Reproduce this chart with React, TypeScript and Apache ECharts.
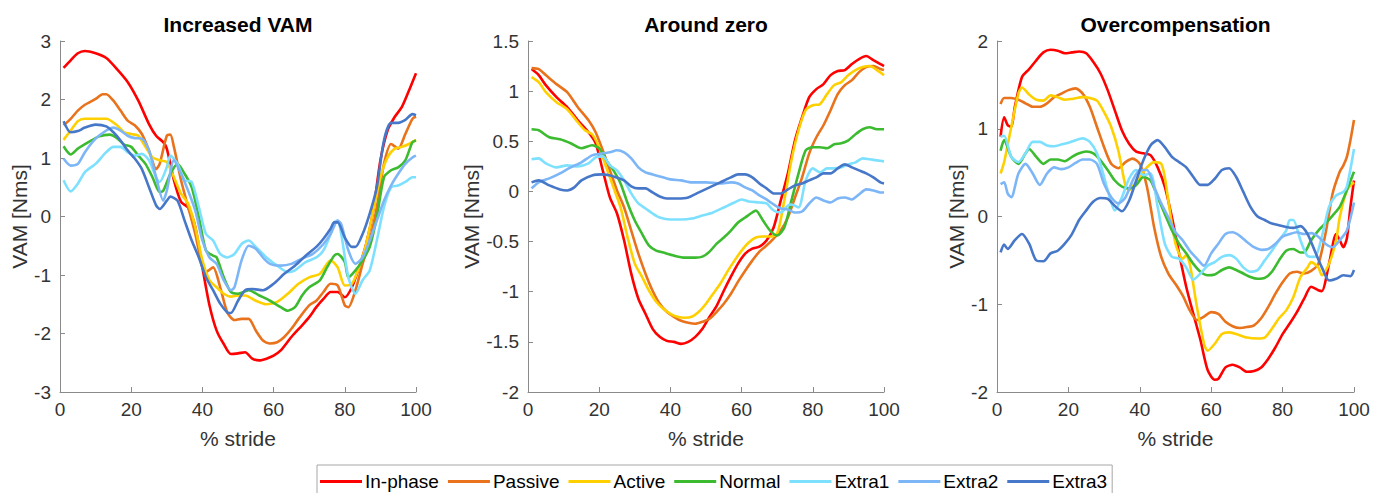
import React, { useEffect, useRef } from "react";
import * as echarts from "echarts";

const seriesNames = ["In-phase", "Passive", "Active", "Normal", "Extra1", "Extra2", "Extra3"];
const seriesColors = ["#FF0000", "#E8731C", "#FFD000", "#3DBB30", "#7EE0FF", "#7CB6F7", "#4677C8"];
const panelTitles = ["Increased VAM", "Around zero", "Overcompensation"];
const xTicks = { min: 0, max: 100, interval: 20 };
const yRanges = [
  { min: -3, max: 3, interval: 1 },
  { min: -2, max: 1.5, interval: 0.5 },
  { min: -2, max: 2, interval: 1 },
];

// ---- Panel 1: Increased VAM ----
const p1InPhase = [[1,2.54],[3,2.67],[5,2.79],[7,2.83],[10,2.79],[13,2.71],[16,2.52],[19,2.30],[22,1.98],[25,1.58],[27,1.38],[29,1.27],[30,1.16],[32,0.62],[34,0.25],[36,0.15],[38,-0.18],[40,-0.87],[42,-1.52],[44,-1.95],[46,-2.18],[48,-2.35],[50,-2.34],[52,-2.32],[54,-2.43],[56,-2.46],[58,-2.43],[60,-2.38],[62,-2.29],[65,-2.06],[68,-1.86],[70,-1.72],[72,-1.55],[74,-1.41],[76,-1.29],[78,-1.29],[80,-1.38],[82,-1.21],[84,-0.87],[86,-0.47],[88,0.10],[90,0.96],[92,1.47],[94,1.70],[96,1.87],[98,2.15],[100,2.45]];
const p1Passive = [[1,1.56],[3,1.67],[5,1.81],[7,1.91],[10,2.01],[12,2.09],[13,2.09],[15,1.98],[17,1.81],[19,1.64],[21,1.56],[23,1.41],[25,1.13],[27,0.81],[28,0.90],[30,1.38],[31,1.40],[32,1.19],[34,0.62],[36,0.16],[38,-0.30],[40,-0.87],[41,-0.95],[43,-0.87],[45,-1.21],[47,-1.64],[49,-1.77],[51,-1.75],[53,-1.75],[55,-1.95],[57,-2.12],[59,-2.17],[61,-2.15],[63,-2.06],[65,-1.92],[67,-1.75],[70,-1.52],[72,-1.44],[74,-1.29],[76,-1.15],[78,-1.18],[80,-1.52],[81,-1.55],[83,-1.26],[85,-0.81],[87,-0.41],[89,0.16],[91,0.90],[93,1.24],[95,1.16],[97,1.41],[99,1.67],[100,1.71]];
const p1Active = [[1,1.31],[3,1.47],[5,1.63],[7,1.67],[10,1.67],[13,1.67],[16,1.56],[18,1.44],[20,1.41],[22,1.38],[24,1.19],[26,1.01],[28,0.96],[30,0.93],[32,0.67],[34,0.39],[36,0.22],[38,-0.18],[40,-0.75],[42,-1.09],[44,-1.21],[46,-1.32],[48,-1.37],[50,-1.35],[52,-1.35],[55,-1.44],[58,-1.50],[61,-1.46],[64,-1.32],[67,-1.15],[70,-1.04],[73,-0.98],[75,-0.81],[76,-0.75],[78,-0.87],[80,-1.18],[82,-1.15],[84,-0.87],[86,-0.47],[88,0.10],[90,0.67],[92,1.01],[94,1.16],[96,1.19],[98,1.24],[100,1.31]];
const p1Normal = [[1,1.20],[3,1.06],[5,1.16],[8,1.27],[11,1.37],[14,1.40],[16,1.34],[18,1.23],[20,1.19],[22,1.04],[24,0.90],[26,0.67],[28,0.42],[29,0.44],[31,0.73],[33,0.90],[35,0.73],[37,0.50],[39,-0.01],[41,-0.58],[43,-0.67],[44,-0.70],[46,-1.04],[48,-1.29],[50,-1.32],[53,-1.26],[56,-1.35],[59,-1.44],[62,-1.55],[64,-1.61],[66,-1.55],[68,-1.35],[70,-1.21],[73,-1.09],[75,-0.87],[77,-0.67],[78,-0.64],[80,-0.78],[81,-1.04],[83,-0.92],[85,-0.75],[87,-0.52],[89,-0.01],[91,0.67],[93,0.79],[95,0.84],[97,0.96],[99,1.27],[100,1.30]];
const p1Extra1 = [[1,0.62],[3,0.43],[5,0.56],[7,0.76],[10,0.90],[13,1.10],[15,1.19],[17,1.19],[19,1.10],[21,1.04],[23,1.07],[25,0.96],[27,0.67],[28,0.59],[30,0.84],[31,1.04],[33,0.90],[35,0.62],[37,0.59],[39,0.16],[41,-0.30],[43,-0.41],[45,-0.64],[47,-0.70],[49,-0.64],[51,-0.47],[53,-0.41],[55,-0.52],[58,-0.70],[61,-0.84],[64,-0.95],[66,-0.92],[69,-0.78],[72,-0.70],[74,-0.58],[76,-0.30],[77,-0.10],[78,-0.07],[79,-0.30],[81,-1.04],[83,-1.32],[85,-1.09],[87,-0.92],[89,-0.41],[91,0.16],[93,0.50],[95,0.53],[97,0.59],[99,0.67],[100,0.67]];
const p1Extra2 = [[1,0.99],[3,0.87],[5,0.90],[7,1.10],[10,1.33],[13,1.47],[15,1.52],[17,1.47],[19,1.38],[21,1.34],[23,1.33],[25,1.13],[27,0.67],[29,0.27],[30,0.44],[32,0.96],[34,0.73],[36,0.44],[38,0.10],[40,-0.41],[42,-0.70],[44,-0.81],[46,-1.09],[48,-1.26],[49,-1.21],[51,-0.75],[53,-0.50],[55,-0.55],[57,-0.70],[59,-0.81],[62,-0.84],[65,-0.81],[68,-0.72],[71,-0.64],[74,-0.47],[76,-0.30],[78,-0.07],[79,-0.13],[81,-0.58],[83,-0.81],[85,-0.70],[87,-0.41],[89,-0.07],[91,0.27],[93,0.53],[95,0.73],[97,0.90],[99,1.01],[100,1.04]];
const p1Extra3 = [[1,1.63],[3,1.44],[5,1.46],[7,1.52],[10,1.57],[13,1.54],[15,1.44],[17,1.30],[19,1.13],[21,0.99],[23,0.81],[25,0.50],[27,0.19],[28,0.13],[30,0.27],[31,0.34],[33,0.27],[35,-0.07],[37,-0.41],[39,-0.70],[41,-1.04],[43,-1.26],[45,-1.49],[47,-1.64],[48,-1.65],[50,-1.44],[52,-1.26],[54,-1.24],[57,-1.26],[60,-1.15],[63,-0.98],[66,-0.84],[69,-0.67],[72,-0.52],[74,-0.38],[76,-0.21],[77,-0.10],[78,-0.10],[80,-0.36],[82,-0.52],[83,-0.52],[85,-0.30],[87,0.05],[89,0.50],[91,1.30],[93,1.60],[95,1.60],[97,1.65],[99,1.75],[100,1.73]];

// ---- Panel 2: Around zero ----
const p2InPhase = [[1,1.22],[3,1.16],[5,1.06],[8,0.94],[11,0.84],[14,0.71],[17,0.59],[19,0.48],[21,0.21],[23,-0.06],[25,-0.22],[27,-0.49],[29,-0.82],[31,-1.07],[33,-1.22],[35,-1.37],[37,-1.45],[39,-1.49],[41,-1.50],[43,-1.52],[45,-1.50],[47,-1.45],[49,-1.37],[51,-1.25],[53,-1.14],[55,-0.99],[57,-0.85],[59,-0.72],[61,-0.62],[63,-0.57],[65,-0.55],[67,-0.49],[69,-0.36],[71,-0.09],[73,0.18],[75,0.51],[77,0.74],[79,0.94],[81,1.02],[83,1.07],[85,1.16],[87,1.20],[89,1.21],[91,1.27],[93,1.32],[95,1.35],[97,1.31],[99,1.27],[100,1.25]];
const p2Passive = [[1,1.23],[3,1.22],[5,1.16],[8,1.07],[11,0.99],[14,0.84],[17,0.71],[19,0.59],[21,0.41],[23,0.21],[25,0.01],[27,-0.16],[29,-0.39],[31,-0.62],[33,-0.82],[35,-0.99],[37,-1.12],[39,-1.20],[41,-1.25],[43,-1.29],[45,-1.31],[47,-1.32],[49,-1.30],[51,-1.27],[53,-1.20],[55,-1.12],[57,-1.02],[59,-0.90],[61,-0.79],[63,-0.69],[65,-0.60],[67,-0.54],[69,-0.47],[71,-0.39],[73,-0.26],[75,-0.06],[77,0.14],[79,0.38],[81,0.54],[83,0.66],[85,0.81],[87,0.97],[89,1.06],[91,1.11],[93,1.19],[95,1.24],[97,1.25],[99,1.22],[100,1.21]];
const p2Active = [[1,1.14],[3,1.09],[5,0.99],[8,0.89],[11,0.82],[14,0.69],[16,0.61],[18,0.57],[20,0.44],[22,0.24],[24,0.04],[26,-0.16],[28,-0.46],[30,-0.72],[32,-0.85],[34,-0.99],[36,-1.10],[38,-1.17],[40,-1.22],[42,-1.25],[44,-1.26],[46,-1.25],[48,-1.20],[50,-1.12],[52,-1.02],[54,-0.92],[56,-0.80],[58,-0.69],[60,-0.59],[62,-0.51],[64,-0.46],[66,-0.45],[68,-0.45],[70,-0.42],[72,-0.09],[74,0.31],[76,0.61],[78,0.81],[80,0.86],[82,0.87],[84,0.97],[86,1.06],[88,1.09],[90,1.16],[92,1.21],[94,1.24],[96,1.25],[98,1.21],[100,1.16]];
const p2Normal = [[1,0.62],[3,0.61],[6,0.54],[9,0.52],[12,0.48],[15,0.43],[18,0.46],[20,0.43],[22,0.31],[24,0.21],[26,0.08],[28,-0.12],[30,-0.29],[32,-0.42],[34,-0.54],[36,-0.59],[38,-0.61],[41,-0.64],[44,-0.66],[47,-0.66],[49,-0.65],[51,-0.60],[53,-0.52],[55,-0.46],[57,-0.39],[59,-0.31],[61,-0.26],[63,-0.21],[64,-0.19],[66,-0.29],[68,-0.39],[70,-0.44],[72,-0.36],[74,-0.09],[76,0.18],[78,0.41],[80,0.44],[82,0.44],[84,0.43],[86,0.47],[88,0.48],[90,0.51],[92,0.57],[94,0.62],[96,0.64],[98,0.62],[100,0.62]];
const p2Extra1 = [[1,0.32],[3,0.33],[5,0.28],[8,0.24],[11,0.26],[14,0.25],[17,0.28],[19,0.34],[21,0.35],[23,0.26],[25,0.21],[27,0.11],[29,-0.02],[31,-0.12],[33,-0.17],[35,-0.22],[37,-0.26],[40,-0.28],[43,-0.28],[46,-0.27],[49,-0.24],[52,-0.21],[55,-0.16],[58,-0.11],[60,-0.08],[62,-0.10],[65,-0.11],[67,-0.12],[69,-0.19],[71,-0.21],[73,-0.14],[74,-0.13],[76,-0.16],[78,0.11],[80,0.23],[82,0.19],[84,0.23],[86,0.23],[88,0.24],[90,0.27],[92,0.29],[94,0.33],[96,0.32],[98,0.31],[100,0.30]];
const p2Extra2 = [[1,0.03],[3,0.09],[6,0.13],[9,0.18],[12,0.24],[15,0.29],[18,0.36],[21,0.38],[23,0.39],[25,0.41],[27,0.39],[29,0.33],[31,0.24],[33,0.19],[35,0.17],[37,0.15],[40,0.12],[43,0.11],[46,0.09],[50,0.09],[54,0.08],[57,0.09],[59,0.08],[61,0.04],[63,0.01],[65,-0.04],[67,-0.08],[69,-0.13],[71,-0.17],[73,-0.18],[75,-0.21],[77,-0.20],[79,-0.12],[81,-0.06],[83,-0.09],[85,-0.11],[87,-0.07],[89,-0.06],[91,-0.08],[93,-0.03],[95,0.02],[97,0.01],[99,-0.01],[100,-0.01]];
const p2Extra3 = [[1,0.09],[3,0.11],[6,0.06],[9,0.02],[11,0.01],[13,0.04],[15,0.11],[18,0.16],[21,0.17],[24,0.15],[27,0.11],[29,0.05],[31,0.03],[33,0.03],[35,-0.01],[37,-0.05],[39,-0.07],[42,-0.07],[45,-0.06],[48,-0.01],[51,0.04],[54,0.09],[57,0.14],[59,0.17],[61,0.17],[63,0.14],[65,0.08],[67,0.03],[69,-0.02],[71,-0.02],[73,0.02],[75,0.06],[77,0.08],[79,0.11],[81,0.14],[83,0.18],[85,0.18],[87,0.23],[89,0.27],[91,0.24],[93,0.21],[95,0.18],[97,0.14],[99,0.09],[100,0.08]];

// ---- Panel 3: Overcompensation ----
const p3InPhase = [[1,0.91],[2,1.13],[3,1.04],[4,1.02],[5,1.25],[7,1.59],[9,1.68],[11,1.78],[13,1.87],[15,1.90],[17,1.89],[19,1.86],[21,1.87],[23,1.88],[25,1.86],[27,1.76],[29,1.63],[31,1.44],[33,1.21],[35,0.98],[37,0.83],[39,0.74],[41,0.72],[43,0.70],[45,0.56],[47,0.34],[49,-0.01],[51,-0.42],[53,-0.80],[55,-1.11],[57,-1.41],[59,-1.75],[61,-1.86],[62,-1.85],[64,-1.72],[66,-1.69],[68,-1.72],[70,-1.77],[72,-1.76],[74,-1.72],[76,-1.62],[78,-1.49],[80,-1.34],[82,-1.22],[84,-1.09],[86,-0.94],[88,-0.80],[90,-0.84],[91,-0.85],[93,-0.54],[95,-0.20],[96,-0.27],[97,-0.35],[98,-0.25],[99,0.11],[100,0.41]];
const p3Passive = [[1,1.28],[2,1.35],[4,1.35],[6,1.33],[8,1.29],[10,1.25],[12,1.25],[14,1.29],[16,1.36],[18,1.40],[20,1.44],[22,1.46],[24,1.40],[26,1.25],[28,1.02],[30,0.79],[32,0.60],[34,0.55],[36,0.62],[38,0.66],[40,0.60],[42,0.34],[44,-0.12],[46,-0.46],[48,-0.65],[50,-0.77],[52,-0.90],[54,-1.07],[56,-1.18],[58,-1.14],[60,-1.09],[62,-1.11],[64,-1.20],[66,-1.25],[68,-1.27],[70,-1.26],[72,-1.24],[74,-1.16],[76,-1.03],[78,-0.88],[80,-0.75],[82,-0.65],[84,-0.63],[86,-0.65],[88,-0.62],[90,-0.54],[92,-0.20],[94,0.26],[96,0.51],[97,0.58],[98,0.68],[99,0.87],[100,1.10]];
const p3Active = [[1,0.49],[2,0.62],[4,1.02],[6,1.40],[7,1.47],[9,1.39],[11,1.33],[13,1.32],[15,1.38],[17,1.36],[19,1.33],[21,1.34],[24,1.36],[26,1.35],[28,1.32],[30,1.19],[32,1.02],[34,0.75],[36,0.35],[37,0.30],[38,0.34],[40,0.45],[42,0.56],[44,0.62],[46,0.60],[47,0.45],[48,0.18],[50,-0.31],[52,-0.48],[53,-0.44],[54,-0.54],[56,-1.03],[58,-1.45],[59,-1.53],[61,-1.45],[63,-1.34],[65,-1.32],[67,-1.34],[70,-1.38],[73,-1.39],[75,-1.38],[77,-1.28],[79,-1.16],[81,-1.07],[83,-0.92],[85,-0.69],[87,-0.58],[88,-0.52],[90,-0.58],[91,-0.67],[93,-0.54],[95,-0.27],[96,-0.01],[98,0.30],[100,0.39]];
const p3Normal = [[1,0.75],[2,0.87],[4,0.68],[6,0.60],[8,0.72],[9,0.77],[11,0.68],[13,0.60],[15,0.65],[17,0.65],[19,0.63],[21,0.68],[23,0.72],[25,0.74],[27,0.72],[29,0.64],[31,0.53],[33,0.41],[35,0.34],[37,0.32],[39,0.36],[41,0.45],[43,0.41],[45,0.22],[47,0.03],[49,-0.16],[51,-0.31],[53,-0.42],[55,-0.54],[57,-0.63],[59,-0.67],[61,-0.66],[63,-0.61],[65,-0.58],[67,-0.61],[69,-0.65],[71,-0.69],[73,-0.71],[75,-0.70],[77,-0.63],[79,-0.50],[81,-0.39],[83,-0.37],[85,-0.41],[86,-0.41],[88,-0.27],[90,-0.16],[92,-0.08],[94,0.01],[96,0.11],[98,0.30],[100,0.51]];
const p3Extra1 = [[1,0.91],[2,0.92],[4,0.68],[6,0.62],[8,0.72],[10,0.85],[12,0.85],[14,0.81],[16,0.80],[18,0.82],[20,0.84],[22,0.87],[24,0.89],[26,0.85],[28,0.72],[30,0.45],[31,0.30],[33,0.07],[35,0.22],[37,0.43],[39,0.53],[41,0.47],[43,0.49],[45,0.11],[47,-0.31],[49,-0.46],[51,-0.48],[53,-0.58],[55,-0.72],[57,-0.65],[59,-0.56],[61,-0.52],[63,-0.46],[65,-0.44],[67,-0.48],[69,-0.58],[71,-0.63],[73,-0.61],[75,-0.50],[77,-0.39],[79,-0.27],[81,-0.16],[82,-0.04],[83,-0.04],[85,-0.27],[87,-0.45],[89,-0.46],[91,-0.23],[93,0.11],[95,0.24],[97,0.28],[98,0.34],[100,0.77]];
const p3Extra2 = [[1,0.37],[2,0.39],[3,0.26],[4,0.22],[6,0.49],[8,0.60],[10,0.49],[12,0.36],[14,0.49],[16,0.56],[18,0.54],[20,0.56],[22,0.61],[24,0.65],[26,0.65],[28,0.60],[30,0.37],[32,0.22],[34,0.15],[36,0.22],[38,0.41],[40,0.53],[42,0.53],[44,0.34],[46,0.15],[48,-0.01],[50,-0.18],[52,-0.27],[54,-0.39],[56,-0.48],[58,-0.56],[60,-0.42],[62,-0.31],[64,-0.20],[66,-0.18],[68,-0.22],[70,-0.29],[72,-0.35],[74,-0.38],[76,-0.37],[78,-0.31],[80,-0.23],[82,-0.20],[84,-0.18],[86,-0.20],[88,-0.19],[90,-0.23],[92,-0.31],[94,-0.35],[96,-0.27],[98,-0.16],[100,0.16]];
const p3Extra3 = [[1,-0.41],[2,-0.32],[3,-0.37],[5,-0.27],[7,-0.20],[9,-0.31],[11,-0.50],[13,-0.51],[15,-0.42],[17,-0.39],[19,-0.31],[21,-0.20],[23,-0.04],[25,0.07],[27,0.17],[29,0.21],[31,0.20],[33,0.12],[35,0.06],[37,0.18],[39,0.41],[41,0.64],[43,0.81],[45,0.87],[47,0.79],[49,0.68],[51,0.62],[53,0.56],[55,0.45],[57,0.36],[59,0.36],[61,0.43],[63,0.53],[65,0.55],[67,0.45],[69,0.28],[71,0.11],[73,0.00],[75,-0.04],[77,-0.08],[79,-0.10],[81,-0.12],[83,-0.13],[85,-0.11],[87,-0.20],[89,-0.39],[91,-0.58],[93,-0.73],[95,-0.71],[97,-0.67],[99,-0.68],[100,-0.61]];

const panelData = [
  [p1InPhase, p1Passive, p1Active, p1Normal, p1Extra1, p1Extra2, p1Extra3],
  [p2InPhase, p2Passive, p2Active, p2Normal, p2Extra1, p2Extra2, p2Extra3],
  [p3InPhase, p3Passive, p3Active, p3Normal, p3Extra1, p3Extra2, p3Extra3],
];

const FONT = "'Liberation Sans', Arial, Helvetica, sans-serif";
const AXIS_COLOR = "#8a8a8a";
const LABEL_COLOR = "#333333";

export default function App() {
  const ref = useRef<HTMLDivElement>(null);

  useEffect(() => {
    if (!ref.current) return;
    const chart = echarts.init(ref.current, undefined, { renderer: "svg" });

    const grids = [
      { left: 60, top: 41, width: 356, height: 351 },
      { left: 528, top: 41, width: 356, height: 351 },
      { left: 997, top: 41, width: 357, height: 351 },
    ];
    const yNameGaps = [30, 46, 30];

    const xAxes = grids.map((_, i) => ({
      type: "value",
      gridIndex: i,
      min: xTicks.min,
      max: xTicks.max,
      interval: xTicks.interval,
      name: "% stride",
      nameLocation: "middle",
      nameGap: 36,
      nameTextStyle: { fontFamily: FONT, fontSize: 21, color: LABEL_COLOR },
      axisLine: { show: true, onZero: false, lineStyle: { color: AXIS_COLOR, width: 1 } },
      axisTick: { show: true, inside: true, length: 5, lineStyle: { color: AXIS_COLOR } },
      axisLabel: { fontFamily: FONT, fontSize: 19, color: LABEL_COLOR, margin: 8 },
      splitLine: { show: false },
    }));

    const yAxes = grids.map((_, i) => ({
      type: "value",
      gridIndex: i,
      min: yRanges[i].min,
      max: yRanges[i].max,
      interval: yRanges[i].interval,
      name: "VAM [Nms]",
      nameLocation: "middle",
      nameGap: yNameGaps[i],
      nameRotate: 90,
      nameTextStyle: { fontFamily: FONT, fontSize: 21, color: LABEL_COLOR },
      axisLine: { show: true, onZero: false, lineStyle: { color: AXIS_COLOR, width: 1 } },
      axisTick: { show: true, inside: true, length: 5, lineStyle: { color: AXIS_COLOR } },
      axisLabel: { fontFamily: FONT, fontSize: 19, color: LABEL_COLOR, margin: 9 },
      splitLine: { show: false },
    }));

    const series: any[] = [];
    panelData.forEach((panel, pi) => {
      panel.forEach((data, si) => {
        series.push({
          type: "line",
          name: seriesNames[si],
          xAxisIndex: pi,
          yAxisIndex: pi,
          data,
          smooth: 0.25,
          symbol: "none",
          lineStyle: { color: seriesColors[si], width: 2.6 },
          itemStyle: { color: seriesColors[si] },
          z: 2 + si,
        });
      });
    });

    const titles = panelTitles.map((t, i) => ({
      type: "text",
      x: grids[i].left + grids[i].width / 2,
      y: 24,
      style: {
        text: t,
        fontFamily: FONT,
        fontSize: 21,
        fontWeight: "bold",
        fill: "#000",
        textAlign: "center",
        textVerticalAlign: "middle",
      },
    }));

    chart.setOption({
      animation: false,
      backgroundColor: "#ffffff",
      grid: grids,
      xAxis: xAxes,
      yAxis: yAxes,
      series,
      graphic: titles,
      legend: {
        data: seriesNames.map((n) => ({ name: n, icon: "rect" })),
        left: 317,
        top: 465,
        orient: "horizontal",
        itemWidth: 42,
        itemHeight: 3,
        itemGap: 9,
        padding: [7, 5, 18, 3],
        borderColor: "#a6a6a6",
        borderWidth: 1,
        textStyle: { fontFamily: FONT, fontSize: 19, color: "#000", padding: [0, 0, 0, -2] },
      },
    });

    return () => chart.dispose();
  }, []);

  return <div ref={ref} style={{ width: 1384, height: 493, position: "absolute", left: 0, top: 0 }} />;
}
